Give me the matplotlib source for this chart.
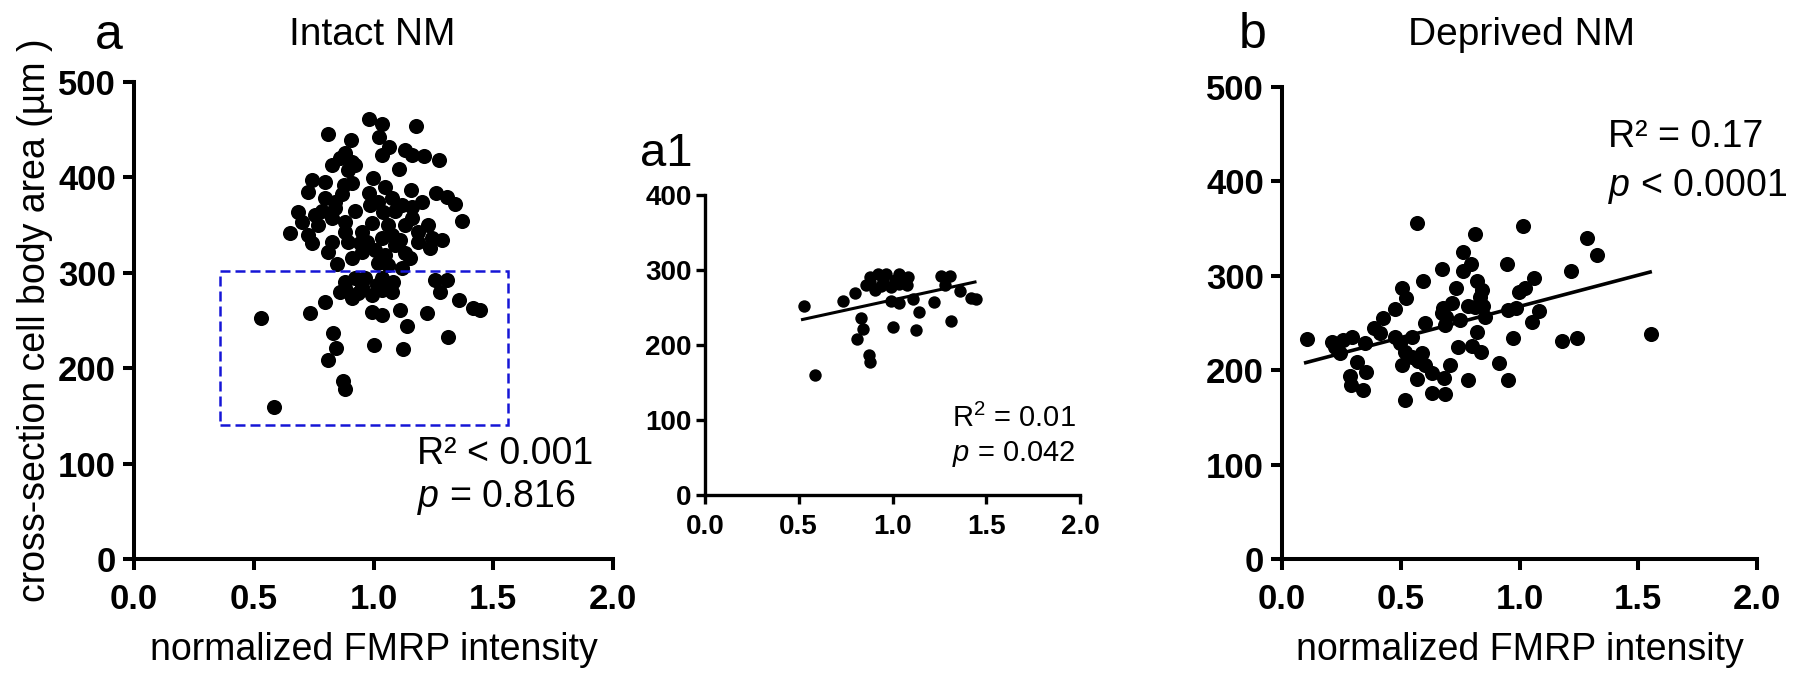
import numpy as np
import matplotlib.pyplot as plt
from matplotlib.patches import Rectangle

plt.rcParams['font.family'] = ['Liberation Sans', 'DejaVu Sans']
plt.rcParams['mathtext.fontset'] = 'custom'
plt.rcParams['mathtext.rm'] = 'Liberation Sans'
plt.rcParams['mathtext.it'] = 'Liberation Sans:italic'

# Intact NM: normalized FMRP intensity vs cross-section area
intact_x = np.array([
    0.981, 1.037, 1.179, 0.811, 1.023, 0.906, 1.065, 1.034, 1.132, 1.159,
    1.211, 1.275, 0.881, 0.909, 0.860, 0.828, 0.895, 1.107, 0.997, 0.742,
    0.798, 0.728, 0.878, 1.048, 1.157, 0.981, 0.867, 0.798, 0.839, 1.076,
    1.260, 1.306, 1.340, 1.201, 1.159, 0.686, 0.756, 0.784, 0.923, 0.985,
    1.041, 1.090, 1.118, 1.159, 0.828, 0.881, 0.700, 0.770, 1.368, 1.226,
    0.651, 0.728, 0.992, 1.062, 0.881, 1.187, 1.076, 1.111, 0.742, 0.825,
    0.892, 0.972, 1.187, 1.285, 1.236, 0.809, 0.951, 1.006, 1.132, 0.912,
    1.048, 1.152, 0.846, 1.020, 1.062, 1.118,
    0.951, 1.034, 1.090, 0.944, 0.839, 0.909, 1.132, 1.243, 1.020, 0.923,
    0.881, 0.923, 1.034, 1.083, 1.257, 1.306, 0.881, 0.951, 1.034, 1.076,
    1.278, 0.909, 0.992, 0.798, 1.358, 0.735, 0.992, 1.034, 1.111, 1.222,
    1.417, 1.445, 0.530, 1.139, 0.832, 1.310, 0.842, 1.002, 1.125, 0.809,
    0.874, 0.881, 0.586,
    0.964, 0.937, 1.013, 1.062, 0.860,
])
intact_y = np.array([
    461, 456, 454, 445, 442, 439, 432, 423.5, 428.7, 424,
    422.8, 418.2, 425.2, 416.5, 420, 413, 407.8, 408.8, 399.7, 397.3,
    394.8, 384.4, 392, 390.3, 386.8, 383.3, 382.3, 378.8, 374.6, 378.1,
    383.3, 379.8, 371.8, 374.6, 369.3, 364.1, 360.6, 364.8, 364.8, 371.1,
    364.1, 364.8, 371.1, 357.1, 357.1, 353.6, 352.9, 350.1, 354.3, 350.1,
    341.4, 339.6, 351.9, 350.1, 343.1, 343.1, 339.6, 334.4, 330.9, 332.6,
    332.6, 332.6, 332.6, 334.4, 325.7, 322.2, 322.2, 323.9, 320.4, 315.2,
    318.7, 315.2, 308.9, 310, 308.2, 304.7,
    343.1, 336.1, 329.1, 330.9, 367.6, 393.8, 350.1, 336.1, 374.6, 413,
    290.7, 294.2, 294.2, 290.7, 292.5, 292.5, 283.7, 285.5, 282, 280.2,
    280.2, 273.2, 276.7, 269.1, 271.5, 258.2, 259.3, 255.8, 261, 257.5,
    262.8, 261, 252.3, 244.6, 236.6, 232.4, 221.5, 224.3, 220.1, 208.6,
    186.6, 177.9, 159.7,
    294.2, 278.5, 287.2, 285.5, 280.2,
])

# Deprived NM
deprived_x = np.array([
    0.567, 1.013, 0.814, 1.283, 1.325, 0.763, 0.794, 0.763, 0.946, 0.675,
    1.217, 1.062, 0.592, 0.821, 0.504, 0.731, 0.841, 1.023, 0.998, 0.522,
    0.834, 0.476, 0.714, 0.679, 0.785, 0.848, 0.953, 0.984, 1.083, 0.424,
    0.689, 0.749, 0.855, 1.051, 0.602, 0.686, 0.389, 0.413, 0.104, 0.212,
    0.258, 0.293, 0.349, 0.476, 0.546, 0.820, 0.974, 1.177, 1.241, 1.554,
    0.244, 0.497, 0.518, 0.588, 0.742, 0.799, 0.838, 0.314, 0.352, 0.286,
    0.504, 0.574, 0.602, 0.707, 0.915, 0.290, 0.342, 0.567, 0.630, 0.683,
    0.785, 0.950, 0.630, 0.686, 0.518, 0.672, 0.813, 0.546, 0.223,
])
deprived_y = np.array([
    355.6, 353.1, 344.3, 340.4, 322.0, 324.9, 312.5, 305.4, 312.1, 307.2,
    305.1, 297.3, 294.8, 294.5, 287.4, 287.4, 285.0, 287.4, 283.2, 276.1,
    277.9, 264.5, 271.5, 265.5, 268.0, 268.0, 263.8, 265.5, 262.7, 255.7,
    256.7, 253.2, 256.7, 251.4, 249.6, 247.9, 244.4, 239.1, 232.7, 230.2,
    232.0, 234.8, 228.5, 235.5, 235.5, 240.8, 234.5, 231.3, 234.5, 238.0,
    217.9, 228.5, 219.6, 217.9, 225.0, 225.6, 219.6, 209.0, 198.5, 193.9,
    205.5, 210.1, 205.5, 205.5, 207.3, 184.3, 179.0, 190.7, 197.4, 191.4,
    189.6, 189.6, 176.2, 174.8, 168.4, 260.2, 267.3, 214.3, 225.0,
])

# fitted lines as drawn in the figure
a1_fit_x = [0.52, 1.44]
a1_fit_y = [234, 284]
b_fit_x = [0.10, 1.55]
b_fit_y = [208, 304]

# selection box shown on panel a (zoomed in a1)
box_x = [0.36, 1.56]
box_y = [140, 302]

xticks = [0.0, 0.5, 1.0, 1.5, 2.0]

sel = (intact_y <= 300) & (intact_x >= box_x[0]) & (intact_x <= box_x[1])
a1_x = intact_x[sel]
a1_y = intact_y[sel]


def style(ax, ymax, ystep, lw, fs, tlen, pad_x, pad_y):
    for s in ("top", "right"):
        ax.spines[s].set_visible(False)
    for s in ("left", "bottom"):
        ax.spines[s].set_linewidth(lw)
    ax.set_xlim(0, 2)
    ax.set_ylim(0, ymax)
    ax.set_xticks(xticks)
    ax.set_xticklabels([f"{v:.1f}" for v in xticks])
    ax.set_yticks(np.arange(0, ymax + 1, ystep))
    ax.tick_params(width=lw, length=tlen, labelsize=fs)
    ax.tick_params(axis="x", pad=pad_x)
    ax.tick_params(axis="y", pad=pad_y)
    for lab in ax.get_xticklabels() + ax.get_yticklabels():
        lab.set_fontweight("bold")
    ax.patch.set_alpha(0)


W, H = 1800, 679
fig = plt.figure(figsize=(18, 6.79), dpi=100)

ax_a = fig.add_axes([134 / W, 1 - 559 / H, 479 / W, 477 / H])
ax_a1 = fig.add_axes([705 / W, 1 - 495 / H, 375 / W, 300 / H])
ax_b = fig.add_axes([1282 / W, 1 - 559 / H, 475 / W, 472 / H])

# panel a
ax_a.scatter(intact_x, intact_y, s=118, color="black", linewidths=0, zorder=3)
ax_a.add_patch(Rectangle((box_x[0], box_y[0]), box_x[1] - box_x[0], box_y[1] - box_y[0],
                         fill=False, edgecolor="#1515d6", lw=1.8,
                         linestyle=(0, (4, 2)), zorder=4))
style(ax_a, 500, 100, 2.9, 25, 8, 9, 5)
ax_a.set_xlabel("normalized FMRP intensity", fontsize=27, labelpad=12)
ax_a.set_ylabel("cross-section cell body area (µm )", fontsize=27, labelpad=4)
ax_a.text(1.18, 110, "R² < 0.001", fontsize=27, ha="left", va="center")
ax_a.text(1.18, 64, "$p$ = 0.816", fontsize=27, ha="left", va="center")

# panel a1
ax_a1.scatter(a1_x, a1_y, s=80, color="black", linewidths=0, zorder=3)
ax_a1.plot(a1_fit_x, a1_fit_y, color="black", lw=2.2, zorder=4)
style(ax_a1, 400, 100, 2.4, 20, 6.5, 7, 3)
ax_a1.text(1.317, 102, "R$^2$ = 0.01", fontsize=21, ha="left", va="center")
ax_a1.text(1.317, 55, "$p$ = 0.042", fontsize=21, ha="left", va="center")

# panel b
ax_b.scatter(deprived_x, deprived_y, s=118, color="black", linewidths=0, zorder=3)
ax_b.plot(b_fit_x, b_fit_y, color="black", lw=2.6, zorder=4)
style(ax_b, 500, 100, 2.9, 25, 8, 9, 5)
ax_b.set_xlabel("normalized FMRP intensity", fontsize=27, labelpad=12)
ax_b.text(1.373, 447, "R² = 0.17", fontsize=27, ha="left", va="center")
ax_b.text(1.373, 394.5, "$p$ < 0.0001", fontsize=27, ha="left", va="center")

# panel letters and titles
fig.text(95 / W, 1 - 49 / H, "a", fontsize=36, ha="left", va="baseline")
fig.text(372 / W, 1 - 45 / H, "Intact NM", fontsize=28, ha="center", va="baseline")
fig.text(640 / W, 1 - 166 / H, "a1", fontsize=34, ha="left", va="baseline")
fig.text(1239 / W, 1 - 48 / H, "b", fontsize=36, ha="left", va="baseline")
fig.text(1522 / W, 1 - 45 / H, "Deprived NM", fontsize=28, ha="center", va="baseline")

fig.savefig("out.png", dpi=100, facecolor="white")
plt.close(fig)
